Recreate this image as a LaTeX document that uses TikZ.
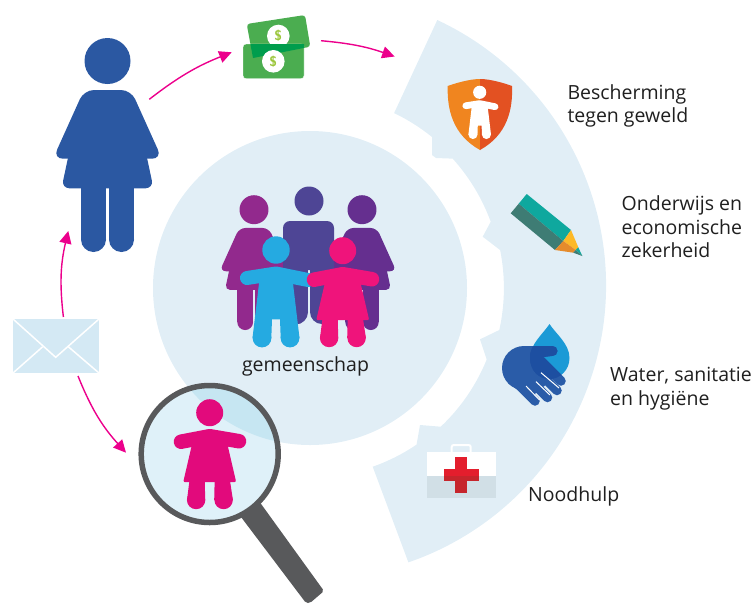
\documentclass[tikz,border=0pt]{standalone}
\usepackage{fontspec}
\setmainfont{Open Sans}
\usepackage[HTML]{xcolor}
\usetikzlibrary{positioning, arrows.meta}

\definecolor{palebg}{HTML}{E1EEF6}
\definecolor{arrowpink}{HTML}{EC008C}
\definecolor{womanblue}{HTML}{2B58A2}
\definecolor{childblue}{HTML}{25AAE1}
\definecolor{childpink}{HTML}{EF147B}
\definecolor{lenspink}{HTML}{E20A7C}
\definecolor{glassgray}{HTML}{58595B}
\definecolor{plum}{HTML}{92298D}
\definecolor{grape}{HTML}{652F8F}
\definecolor{manblue}{HTML}{4E4595}
\definecolor{billgreen}{HTML}{4BAD50}
\definecolor{billdark}{HTML}{009D4D}
\definecolor{dollarlime}{HTML}{9CC63C}
\definecolor{shieldlight}{HTML}{F0851F}
\definecolor{shielddark}{HTML}{E35122}
\definecolor{penteal}{HTML}{0FA89E}
\definecolor{pendark}{HTML}{3E7C74}
\definecolor{penyellow}{HTML}{FDB927}
\definecolor{penorange}{HTML}{E58B2C}
\definecolor{dropblue}{HTML}{1B9AD6}
\definecolor{handblue}{HTML}{2A5CA8}
\definecolor{handdeep}{HTML}{1D4FA1}
\definecolor{casegray}{HTML}{D1DFE6}
\definecolor{crossred}{HTML}{E31E2D}
\definecolor{crossdeep}{HTML}{C6252C}
\definecolor{mailblue}{HTML}{D4E9F4}
\definecolor{lensblue}{HTML}{DFF1F9}
\definecolor{lensdeep}{HTML}{C6E6F2}

\tikzset{
  flow/.style={draw=arrowpink, line width=1.4pt, -{Triangle[length=12.5pt,width=12pt]}},
  sidetext/.style={anchor=west, align=left, inner sep=0pt, text=black!88, font=\fontsize{19.5}{23.5}\selectfont},
  dollar/.style={font=\sffamily\bfseries\fontsize{14}{14}\selectfont, text=dollarlime},
}

\newcommand{\womanfig}[4]{
\begin{scope}[shift={(#1,#2)},scale=#3]
\fill[#4] (0,0) circle[radius=23];
\fill[#4,rounded corners=#3*10pt] (-23.5,29)--(23.5,29)--(54.5,97.7)--(-54.5,97.7)--cycle;
\fill[#4,rounded corners=#3*8pt] (-37,85)--(37,85)--(46,127.3)--(-46,127.3)--cycle;
\fill[#4] (-26.5,120) rectangle (-1.5,178.5);
\fill[#4] (1.5,120) rectangle (26.5,178.5);
\fill[#4] (-14,178.5) circle[radius=12.5];
\fill[#4] (14,178.5) circle[radius=12.5];
\end{scope}
}

\newcommand{\boyfig}[4]{
\begin{scope}[shift={(#1,#2)},scale=#3]
\fill[#4] (0,0) circle[radius=13.7];
\draw[#4,line width=#3*14pt,line cap=round,line join=round] (-29,28)--(0,23.5)--(32,30);
\fill[#4] (-16,25)--(16,25)--(23.5,88)--(4.7,88)--(4,69.3)--(-4,69.3)--(-4.7,88)--(-23.5,88)--cycle;
\fill[#4] (-14,88) circle[radius=9.4];
\fill[#4] (14,88) circle[radius=9.4];
\end{scope}
}

\newcommand{\girlfig}[4]{
\begin{scope}[shift={(#1,#2)},scale=#3]
\fill[#4] (0,0) circle[radius=13.5];
\draw[#4,line width=#3*14.5pt,line cap=round,line join=round] (-28.7,29)--(0,23.5)--(29.3,28.5);
\fill[#4,rounded corners=#3*2pt] (-15,20)--(15,20)--(26.5,69.5)--(-26.5,69.5)--cycle;
\fill[#4] (-20,66)--(-5,66)--(-4.5,87.3)--(-22.7,87.3)--cycle;
\fill[#4] (20,66)--(5,66)--(4.5,87.3)--(23.2,87.3)--cycle;
\fill[#4] (-13.6,87.3) circle[radius=9.2];
\fill[#4] (13.9,87.3) circle[radius=9.2];
\end{scope}
}

\newcommand{\handfig}[1]{
\fill[#1] (524,368) circle[radius=22];
\fill[#1] (524,346)--(552,346)--(553,355.8)--(540,357.5)--(555,377)--(530,398)--(508.4,383.6)--cycle;
\draw[#1,line width=10pt,line cap=round] (532,351)--(552.5,351);
\draw[#1,line width=9.5pt,line cap=round] (541,361)--(561,381);
\draw[#1,line width=9.5pt,line cap=round] (537,370.5)--(557,390.5);
\draw[#1,line width=9.5pt,line cap=round] (527.5,377.5)--(547.5,397.5);
\draw[#1,line width=9.5pt,line cap=round] (515,381)--(535,401);
}

\begin{document}
\begin{tikzpicture}[x=1pt,y=-1pt]
\useasboundingbox (0,0) rectangle (754,603);

% ring with the gear edge
\fill[palebg] (394.3,112.7)--(437.3,20) arc[start angle=-64.9,end angle=71,radius=293]
  --(372.7,466.7) arc[start angle=70.7,end angle=55.8,radius=189.4]
  --(420,425)--(440.7,426.7) arc[start angle=46.7,end angle=22.1,radius=191]
  --(480,339.3)--(499.3,330) arc[start angle=12.5,end angle=-11.3,radius=193.8]
  --(482.7,236.7)--(490.7,221.7) arc[start angle=-20.1,end angle=-42.1,radius=193]
  --(436,158)--(432,155)--(432,137) arc[start angle=-51.1,end angle=-64.3,radius=194.5]--cycle;
\fill[palebg] (310,288) circle[radius=157];

% people in the middle
\womanfig{254}{209.7}{0.63}{plum}
\womanfig{362}{209.7}{0.63}{grape}
\fill[manblue] (309,201) circle[radius=14.5];
\fill[manblue,rounded corners=7pt] (283,221)--(334,221)--(334,270)--(283,270)--cycle;
\fill[manblue] (283,262) rectangle (308,312);
\fill[manblue] (310,262) rectangle (334,312);
\fill[manblue] (295.5,312) circle[radius=12.5];
\fill[manblue] (322,312) circle[radius=12];
\boyfig{276}{250}{1}{childblue}
\girlfig{342.7}{250.7}{1}{childpink}
\node[sidetext,anchor=center] (community) at (305.5,366.5) {gemeenschap};

% big figure
\womanfig{107.5}{61}{1}{womanblue}

% notes
\fill[billgreen,rounded corners=3pt] (246.7,24)--(305,15)--(310.3,46.7)--(253,58)--cycle;
\fill[white] (278.3,36) circle[radius=11.3];
\node[dollar] (dollarback) at (278.3,36) {\$};
\fill[billgreen,draw=white,line width=0.4pt,rounded corners=3pt] (243,44) rectangle (304,78.7);
\begin{scope}
\clip (243,44) rectangle (304,78.7);
\fill[billdark] (246.7,24)--(305,15)--(310.3,46.7)--(253,58)--cycle;
\end{scope}
\fill[white] (273.3,61.3) circle[radius=11.3];
\node[dollar] (dollarfront) at (273.3,61.3) {\$};

% shield
\fill[shieldlight] (480,79) .. controls (470,79) and (456,83) .. (447.7,86) .. controls (447,110) and (453,135) .. (480,150)--cycle;
\fill[shielddark] (480,79) .. controls (490,79) and (504,83) .. (512,86) .. controls (513,110) and (507,135) .. (480,150)--cycle;
\boyfig{479.7}{92.3}{0.48}{white}

% pencil
\fill[penteal] (526.7,194)--(518.7,203.7)--(563.3,241)--(571,230)--cycle;
\fill[pendark] (518.7,203.7)--(510.7,213.3)--(555,250)--(563.3,241)--cycle;
\fill[penyellow] (571,230)--(563.3,241)--(575.7,250)--(578.3,247.3)--cycle;
\fill[penorange] (563.3,241)--(555,250)--(573.3,252.7)--(575.7,250)--cycle;
\fill[penteal] (578.3,247.3)--(575.7,250)--(582.3,256)--cycle;
\fill[pendark] (575.7,250)--(573.3,252.7)--(582.3,256)--cycle;

% drop and hand
\fill[dropblue] (549.5,324) .. controls (556,334) and (569.5,344) .. (569.5,358) .. controls (569.5,370) and (560,379) .. (549.5,379) .. controls (539,379) and (530,370) .. (530,358) .. controls (530,344) and (543,334) .. (549.5,324)--cycle;
\handfig{handblue}
\begin{scope}
\clip (549.5,324) .. controls (556,334) and (569.5,344) .. (569.5,358) .. controls (569.5,370) and (560,379) .. (549.5,379) .. controls (539,379) and (530,370) .. (530,358) .. controls (530,344) and (543,334) .. (549.5,324)--cycle;
\handfig{handdeep}
\end{scope}
\draw[white,line width=1pt] (526,386)--(539.5,400);
\draw[white,line width=1pt] (536,381.7)--(550,395);
\draw[white,line width=1pt] (541,372.7)--(559,388);

% first aid case
\draw[white,line width=2pt,rounded corners=2pt] (451.7,453)--(451.7,445)--(470.7,445)--(470.7,453);
\fill[white] (426.7,452) rectangle (496,475.7);
\fill[casegray] (426.7,475.7) rectangle (496,498);
\fill[crossred] (455,457.3) rectangle (467.3,475.7);
\fill[crossred] (444,469) rectangle (478.7,475.7);
\fill[crossdeep] (455,475.7) rectangle (467.3,492.7);
\fill[crossdeep] (444,475.7) rectangle (478.7,481);

% envelope
\fill[mailblue] (13,319) rectangle (99,373);
\draw[white,line width=1.5pt] (13,319)--(55.7,357.3)--(99,319);
\draw[white,line width=1.5pt] (13,373)--(42.7,346.7);
\draw[white,line width=1.5pt] (99,373)--(68.3,346.7);

% magnifier
\fill[glassgray,rounded corners=2pt] (239.5,515)--(257.5,499)--(324,591)--(310,603)--(306,603)--cycle;
\fill[lensblue] (209.7,454) circle[radius=68.5];
\begin{scope}
\clip (209.7,454) circle[radius=68.5];
\fill[lensdeep] (310,288) circle[radius=157];
\end{scope}
\draw[glassgray,line width=5.5pt] (209.7,454) circle[radius=68.5];
\girlfig{209.7}{412.7}{1}{lenspink}

\coordinate (womanout) at (149.3,99.3);
\coordinate (moneyin) at (231.7,52.3);
\coordinate (moneyout) at (321,40.7);
\coordinate (ringin) at (394.7,56.5);
\coordinate (mailup) at (63.4,317);
\coordinate (womanin) at (68.3,231);
\coordinate (maildown) at (78,376);
\coordinate (lensin) at (126,452.7);

\draw[flow] (womanout) to[bend left=8] (moneyin);
\draw[flow] (moneyout) to[bend left=7] (ringin);
\draw[flow] (mailup) to[bend left=10] (womanin);
\draw[flow] (maildown) to[bend right=10] (lensin);

\node[sidetext] (protect) at (567.3,106) {Bescherming\\tegen geweld};
\node[sidetext] (school) at (621.5,227) {Onderwijs en\\economische\\zekerheid};
\node[sidetext] (water) at (610,388.5) {Water, sanitatie\\en hygiëne};
\node[sidetext] (aid) at (528,496.5) {Noodhulp};
\end{tikzpicture}
\end{document}
